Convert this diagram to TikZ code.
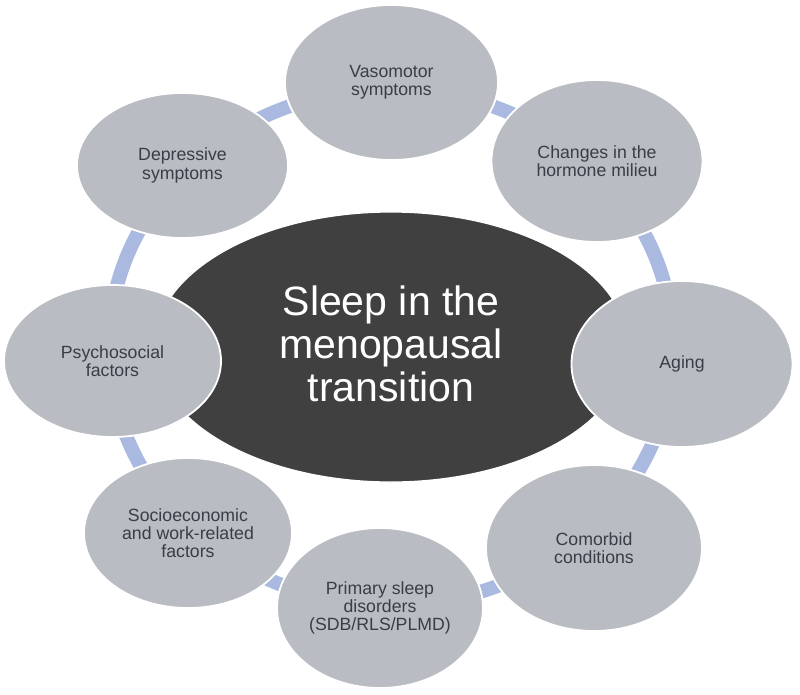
\documentclass[tikz,border=0pt]{standalone}
\usepackage{fontspec}
\setmainfont{Liberation Sans}
\usetikzlibrary{shapes.geometric}
\definecolor{ringblue}{HTML}{A9B9E0}
\definecolor{petal}{HTML}{B9BCC2}
\definecolor{petaltext}{HTML}{3A3D45}
\definecolor{hub}{HTML}{404040}
\tikzset{
  petalnode/.style={ellipse, fill=petal, draw=white, line width=1.8pt, inner sep=0pt,
    align=center, text=petaltext, font=\fontsize{17.7}{18.3}\selectfont},
  hubnode/.style={ellipse, fill=hub, draw=white, line width=1.2pt, inner sep=0pt,
    align=center, text=white, font=\fontsize{41}{43}\selectfont},
  ringline/.style={draw=ringblue, line width=14pt}
}
\begin{document}
\begin{tikzpicture}[x=1pt, y=-1pt]
\useasboundingbox[fill=white] (0,0) rectangle (800,694);
\coordinate (ringc) at (391,347);
\draw[ringline] (ringc) ellipse [x radius=282, y radius=258];
\node[hubnode, minimum width=474pt, minimum height=270pt] (hub) at (391,347) {};
\node[text=white, align=center, font=\fontsize{41}{43}\selectfont] (hubtext) at (391,344)
  {Sleep in the\\menopausal\\transition};
\node[petalnode, minimum width=213pt, minimum height=155pt] (vaso) at (391.5,82.5) {Vasomotor\\symptoms};
\node[petalnode, minimum width=211pt, minimum height=162pt] (horm) at (597,161) {Changes in the\\hormone milieu};
\node[petalnode, minimum width=221pt, minimum height=166pt] (aging) at (682,364) {Aging};
\node[petalnode, minimum width=216pt, minimum height=166pt] (comor) at (594,548) {Comorbid\\conditions};
\node[petalnode, minimum width=206pt, minimum height=160pt] (prim) at (380,608) {Primary sleep\\disorders\\(SDB/RLS/PLMD)};
\node[petalnode, minimum width=208pt, minimum height=150pt] (socio) at (188,533) {Socioeconomic\\and work-related\\factors};
\node[petalnode, minimum width=217pt, minimum height=152pt] (psych) at (112.5,361) {Psychosocial\\factors};
\node[petalnode, minimum width=211pt, minimum height=145pt] (depr) at (182.5,165.5) {Depressive\\symptoms};
\end{tikzpicture}
\end{document}
